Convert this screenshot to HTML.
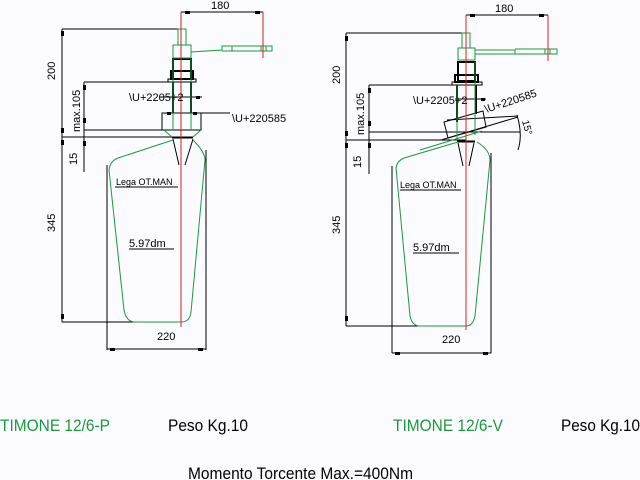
<!DOCTYPE html>
<html><head><style>html,body{margin:0;padding:0;background:#fcfbff;}svg{display:block;}</style></head>
<body>
<svg width="640" height="480" viewBox="0 0 640 480" xmlns="http://www.w3.org/2000/svg" font-family="Liberation Sans, sans-serif">
<rect width="640" height="480" fill="#fcfbff"/>
<!-- LEFT DRAWING -->
<g fill="none" stroke="#000" stroke-width="1">
  <line x1="181" y1="12" x2="263" y2="12"/>
  <line x1="62" y1="29" x2="178" y2="29"/>
  <line x1="62" y1="29" x2="62" y2="322"/>
  <line x1="62" y1="322" x2="135" y2="322"/>
  <line x1="84" y1="82" x2="196" y2="82"/>
  <line x1="84" y1="82" x2="84" y2="172"/>
  <line x1="84" y1="130" x2="201" y2="130"/>
  <line x1="62" y1="137" x2="193" y2="137"/>
  <line x1="107" y1="165" x2="107" y2="350"/>
  <line x1="206" y1="150" x2="206" y2="350"/>
  <line x1="107" y1="349" x2="206" y2="349"/>
  <line x1="160" y1="97" x2="202" y2="97"/>
  <line x1="193" y1="113" x2="230" y2="113"/>
  <rect x="162" y="113" width="39" height="17"/>
  <rect x="168" y="79" width="28" height="3"/>
  <line x1="115" y1="187" x2="178" y2="187"/>
  <line x1="129" y1="249" x2="174" y2="249"/>
  <line x1="173" y1="139" x2="179" y2="165"/>
  <line x1="193" y1="139" x2="185" y2="165"/>
</g>
<g fill="#000">
  <rect x="185" y="11" width="5" height="3"/><rect x="255" y="11" width="5" height="3"/>
  <rect x="61" y="31" width="3" height="5"/><rect x="61" y="128" width="3" height="5"/>
  <rect x="61" y="140" width="3" height="5"/><rect x="61" y="314" width="3" height="5"/>
  <rect x="83" y="85" width="3" height="5"/><rect x="83" y="118" width="3" height="5"/>
  <rect x="83" y="141" width="3" height="5"/>
  <rect x="110" y="348" width="5" height="3"/><rect x="198" y="348" width="5" height="3"/>
  <rect x="196" y="96" width="4" height="3"/>
  <rect x="167" y="112" width="4" height="3"/><rect x="193" y="112" width="4" height="3"/>
</g>
<g fill="none" stroke="#000" stroke-width="2">
  <rect x="173" y="59" width="18" height="20"/>
  <rect x="171" y="71" width="22" height="8"/>
  <line x1="173" y1="82" x2="173" y2="113"/>
  <line x1="191" y1="82" x2="191" y2="113"/>
  <line x1="172" y1="137.5" x2="193" y2="137.5"/>
</g>
<g fill="none" stroke="#1a9a3a" stroke-width="1">
  <rect x="178" y="29" width="8" height="16"/>
  <rect x="173" y="45" width="18" height="13"/>
  <path d="M191 52 L222 50 L222 46 L272 46 L272 51 L232 51 L232 46 M222 51 L232 51"/>
  <line x1="261" y1="46" x2="261" y2="51"/><line x1="266" y1="46" x2="266" y2="51"/>
  <line x1="173" y1="59" x2="173" y2="130"/><line x1="191" y1="59" x2="191" y2="130"/>
  <line x1="164" y1="130" x2="172" y2="137"/><line x1="201" y1="130" x2="193" y2="137"/>
  <path d="M173 140 L118 158 Q110 161 109 170 L124 310 Q126 321 134 322 L181 322 Q190 322 191 312 L205 160 Q205 152 193 140"/>
</g>
<line x1="181" y1="12" x2="181" y2="327" stroke="#d0201c" stroke-width="1"/>
<line x1="263" y1="12" x2="263" y2="58" stroke="#d0201c" stroke-width="1"/>
<g fill="#000" font-size="11">
  <text x="211" y="9">180</text>
  <text transform="translate(55,80) rotate(-90)">200</text>
  <text transform="translate(80,132) rotate(-90)">max.105</text>
  <text transform="translate(77,165) rotate(-90)">15</text>
  <text transform="translate(55,232) rotate(-90)">345</text>
  <text x="129" y="101">\U+2205+2</text>
  <text x="232" y="122">\U+220585</text>
  <text x="116" y="185" font-size="9">Lega OT.MAN</text>
  <text x="129" y="247">5.97dm</text>
  <text x="157" y="340">220</text>
</g>
<!-- RIGHT DRAWING -->
<g fill="none" stroke="#000" stroke-width="1">
  <line x1="466" y1="15" x2="548" y2="15"/>
  <line x1="346" y1="33" x2="463" y2="33"/>
  <line x1="346" y1="33" x2="346" y2="326"/>
  <line x1="346" y1="326" x2="418" y2="326"/>
  <line x1="369" y1="85" x2="480" y2="85"/>
  <line x1="369" y1="85" x2="369" y2="174"/>
  <line x1="369" y1="132" x2="520" y2="132"/>
  <line x1="346" y1="140" x2="466" y2="140"/>
  <line x1="392" y1="166" x2="392" y2="353"/>
  <line x1="491" y1="153" x2="491" y2="353"/>
  <line x1="392" y1="353" x2="491" y2="353"/>
  <line x1="455" y1="99" x2="486" y2="99"/>
  <path d="M444 122 L483 111 L486 127 L448 138 Z"/>
  <line x1="447" y1="120" x2="518" y2="116"/>
  <line x1="441" y1="140" x2="518" y2="117"/>
  <path d="M517 115 Q523 135 518 150"/>
  <rect x="452" y="82" width="30" height="3"/>
  <line x1="400" y1="190" x2="461" y2="190"/>
  <line x1="413" y1="253" x2="459" y2="253"/>
  <line x1="458" y1="143" x2="463" y2="166"/>
  <line x1="474" y1="143" x2="469" y2="166"/>
</g>
<g fill="#000">
  <rect x="470" y="14" width="5" height="3"/><rect x="539" y="14" width="5" height="3"/>
  <rect x="345" y="36" width="3" height="5"/><rect x="345" y="131" width="3" height="5"/>
  <rect x="345" y="143" width="3" height="5"/><rect x="345" y="316" width="3" height="5"/>
  <rect x="368" y="88" width="3" height="5"/><rect x="368" y="121" width="3" height="5"/>
  <rect x="368" y="143" width="3" height="5"/>
  <rect x="395" y="352" width="5" height="3"/><rect x="483" y="352" width="5" height="3"/>
  <rect x="481" y="98" width="4" height="3"/>
</g>
<g fill="none" stroke="#000" stroke-width="2">
  <rect x="458" y="62" width="17" height="19"/>
  <rect x="455" y="75" width="23" height="7"/>
  <line x1="457" y1="85" x2="457" y2="122"/>
  <line x1="476" y1="85" x2="476" y2="114"/>
  <line x1="457" y1="141.5" x2="475" y2="141.5"/>
</g>
<g fill="none" stroke="#1a9a3a" stroke-width="1">
  <rect x="462" y="33" width="8" height="15"/>
  <rect x="458" y="48" width="17" height="12"/>
  <path d="M475 50 L515 50 L515 54 L475 54 M515 49 L557 49 L557 54 L515 54"/>
  <line x1="545" y1="49" x2="545" y2="54"/><line x1="550" y1="49" x2="550" y2="54"/>
  <line x1="457" y1="85" x2="457" y2="140"/><line x1="475" y1="62" x2="475" y2="135"/>
  <line x1="420" y1="150" x2="482" y2="131"/>
  <path d="M458 142 L404 158 Q397 161 396 168 L410 316 Q412 326 420 326 L466 326 Q473 326 475 316 L490 160 Q490 150 477 142"/>
</g>
<line x1="466" y1="15" x2="466" y2="330" stroke="#e0201c" stroke-width="1"/>
<line x1="548" y1="15" x2="548" y2="61" stroke="#e0201c" stroke-width="1"/>
<g fill="#000" font-size="11">
  <text x="495" y="12">180</text>
  <text transform="translate(340,84) rotate(-90)">200</text>
  <text transform="translate(364,135) rotate(-90)">max.105</text>
  <text transform="translate(361,168) rotate(-90)">15</text>
  <text transform="translate(340,234) rotate(-90)">345</text>
  <text x="413" y="104">\U+2205+2</text>
  <text transform="translate(486,113) rotate(-18)">\U+220585</text>
  <text transform="translate(522,121) rotate(75)" font-size="10">15°</text>
  <text x="400" y="188" font-size="9">Lega OT.MAN</text>
  <text x="413" y="251">5.97dm</text>
  <text x="442" y="343">220</text>
</g>
<!-- bottom labels -->
<text x="0" y="431" font-size="17" fill="#1a9a3a" textLength="110" lengthAdjust="spacingAndGlyphs">TIMONE 12/6-P</text>
<text x="168" y="431" font-size="17" fill="#000" textLength="80" lengthAdjust="spacingAndGlyphs">Peso Kg.10</text>
<text x="393" y="431" font-size="17" fill="#1a9a3a" textLength="110" lengthAdjust="spacingAndGlyphs">TIMONE 12/6-V</text>
<text x="561" y="431" font-size="17" fill="#000" textLength="79" lengthAdjust="spacingAndGlyphs">Peso Kg.10</text>
<text x="188" y="479" font-size="17" fill="#000" textLength="225" lengthAdjust="spacingAndGlyphs">Momento Torcente Max.=400Nm</text>
</svg>
</body></html>
